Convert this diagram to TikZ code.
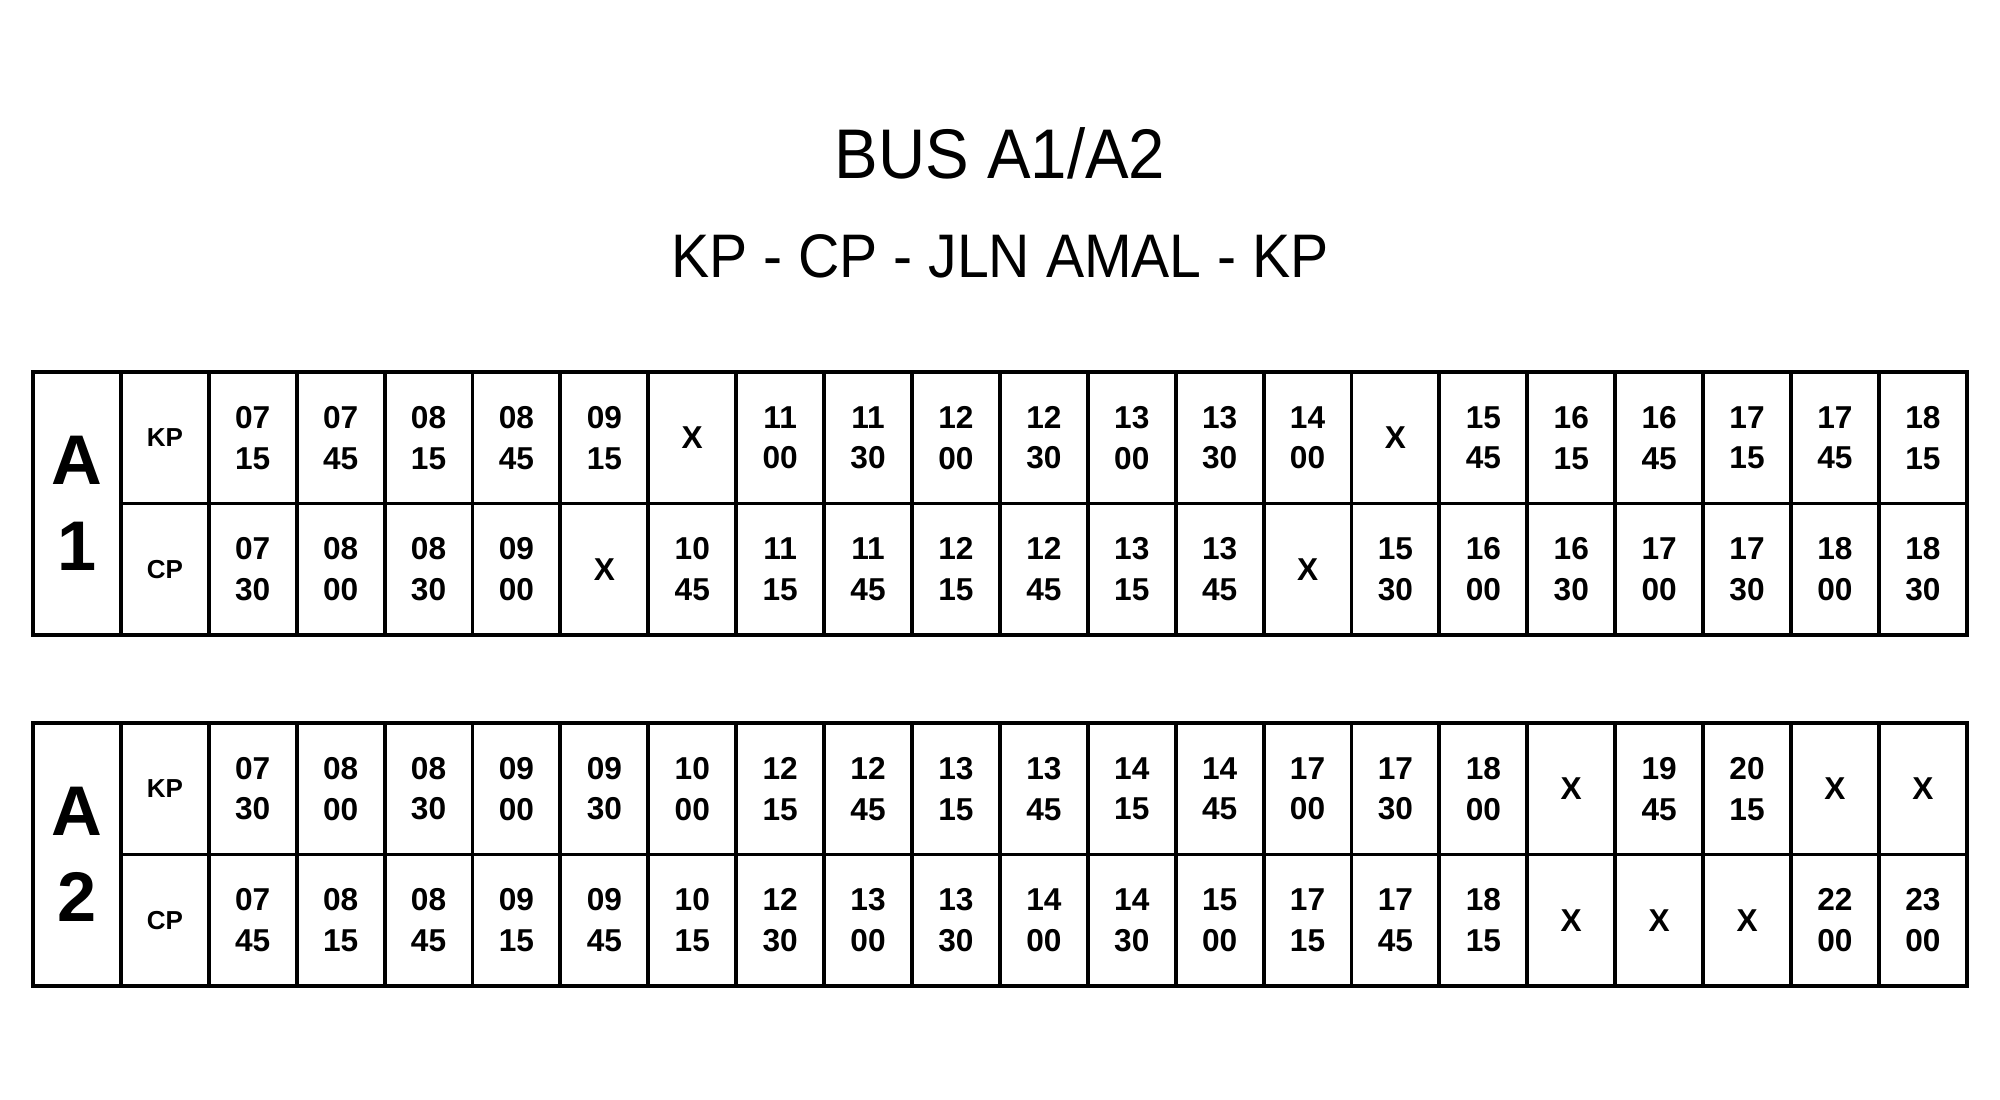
\documentclass[tikz,border=0pt]{standalone}
\usepackage{fontspec}
\setmainfont{Liberation Sans}
\newfontfamily\headfont[FakeStretch=0.93]{Liberation Sans}

% timetable rows
\newcommand{\aonekp}{{07\\15},{07\\45},{08\\15},{08\\45},{09\\15},X,{11\\00},{11\\30},{12\\00},{12\\30},{13\\00},{13\\30},{14\\00},X,{15\\45},{16\\15},{16\\45},{17\\15},{17\\45},{18\\15}}
\newcommand{\aonecp}{{07\\30},{08\\00},{08\\30},{09\\00},X,{10\\45},{11\\15},{11\\45},{12\\15},{12\\45},{13\\15},{13\\45},X,{15\\30},{16\\00},{16\\30},{17\\00},{17\\30},{18\\00},{18\\30}}
\newcommand{\atwokp}{{07\\30},{08\\00},{08\\30},{09\\00},{09\\30},{10\\00},{12\\15},{12\\45},{13\\15},{13\\45},{14\\15},{14\\45},{17\\00},{17\\30},{18\\00},X,{19\\45},{20\\15},X,X}
\newcommand{\atwocp}{{07\\45},{08\\15},{08\\45},{09\\15},{09\\45},{10\\15},{12\\30},{13\\00},{13\\30},{14\\00},{14\\30},{15\\00},{17\\15},{17\\45},{18\\15},X,X,X,{22\\00},{23\\00}}

\tikzset{
  cell/.style={draw,line width=1.1pt,minimum width=0.879cm,minimum height=1.315cm,
    inner sep=0pt,align=center,font=\bfseries\fontsize{9}{11.6}\selectfont},
  stoplbl/.style={cell,font=\bfseries\fontsize{7.4}{9}\selectfont},
  buslbl/.style={cell,minimum height=2.63cm,font=\bfseries\fontsize{20}{24.4}\selectfont},
}

\begin{document}
\begin{tikzpicture}
\useasboundingbox (0,0) rectangle (20,11);
\node[anchor=base,font=\headfont\fontsize{20}{24}\selectfont] (title) at (10,9.21) {BUS A1/A2};
\node[anchor=base,font=\headfont\fontsize{17.5}{21}\selectfont] (route) at (10,8.22) {KP - CP - JLN AMAL - KP};

% bus A1
\begin{scope}
  \node[buslbl] (a1) at (0.7695,5.965) {A\\1};
  \node[stoplbl] (a1kp) at (1.6485,6.6225) {KP};
  \node[stoplbl] (a1cp) at (1.6485,5.3075) {CP};
  \foreach \t [count=\i] in \aonekp
    \node[cell] (a1kp\i) at ({0.33+(\i+1.5)*0.879},6.6225) {\t};
  \foreach \t [count=\i] in \aonecp
    \node[cell] (a1cp\i) at ({0.33+(\i+1.5)*0.879},5.3075) {\t};
\end{scope}

% bus A2
\begin{scope}[yshift=-3.51cm]
  \node[buslbl] (a2) at (0.7695,5.965) {A\\2};
  \node[stoplbl] (a2kp) at (1.6485,6.6225) {KP};
  \node[stoplbl] (a2cp) at (1.6485,5.3075) {CP};
  \foreach \t [count=\i] in \atwokp
    \node[cell] (a2kp\i) at ({0.33+(\i+1.5)*0.879},6.6225) {\t};
  \foreach \t [count=\i] in \atwocp
    \node[cell] (a2cp\i) at ({0.33+(\i+1.5)*0.879},5.3075) {\t};
\end{scope}
\end{tikzpicture}
\end{document}
